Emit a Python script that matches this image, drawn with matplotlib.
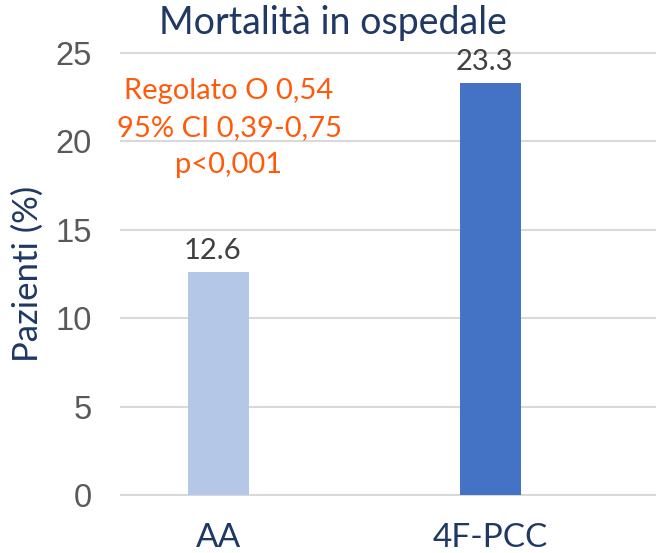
import matplotlib
matplotlib.use("Agg")
import matplotlib.pyplot as plt

# dati
categorie = ["AA", "4F-PCC"]
valori = [12.6, 23.3]
colori_barre = ["#B4C7E7", "#4472C4"]
yticks = [0, 5, 10, 15, 20, 25]
note = ["Regolato O 0,54", "95% CI 0,39-0,75", "p<0,001"]

NAVY = "#1F3864"
GRIGIO = "#595959"
ARANCIO = "#FF5A0A"
TESTO = ["Lato", "DejaVu Sans"]

fig = plt.figure(figsize=(6.56, 5.53), dpi=100)
ax = fig.add_axes([0.1845, 0.1049, 0.8155, 0.7993])

x = list(range(len(categorie)))
ax.bar(x, valori, width=0.224, color=colori_barre, zorder=3)

for xi, v in zip(x, valori):
    ax.text(xi - 0.02, v + 0.45, f"{v:.1f}", ha="center", va="bottom",
            fontsize=21, color="#404040", family=TESTO)

ax.set_xlim(-0.357, 1.61)
ax.set_ylim(0, 25)
ax.set_yticks(yticks)
ax.set_yticklabels([str(t) for t in yticks], family="Liberation Sans",
                   fontsize=23.5, color=GRIGIO)
ax.set_xticks(x)
ax.set_xticklabels(categorie, family=TESTO, fontsize=24, color=NAVY)
ax.tick_params(axis="both", length=0)
ax.tick_params(axis="y", pad=21)
ax.tick_params(axis="x", pad=20)

for t in yticks:
    ax.axhline(t, color="#D9D9D9", lw=1.5, zorder=1, clip_on=False)
for s in ax.spines.values():
    s.set_visible(False)

ax.set_ylabel("Pazienti (%)", family=TESTO, fontsize=25, color=NAVY, labelpad=8)

fig.text(0.507, 0.958, "Mortalità in ospedale", ha="center", va="center",
         family=TESTO, fontsize=27, color=NAVY)

for i, riga in enumerate(note):
    ax.text(0.04, 22.85 - i * 2.1, riga, ha="center", va="center",
            family=TESTO, fontsize=21, color=ARANCIO)

fig.savefig("out.png", dpi=100)
